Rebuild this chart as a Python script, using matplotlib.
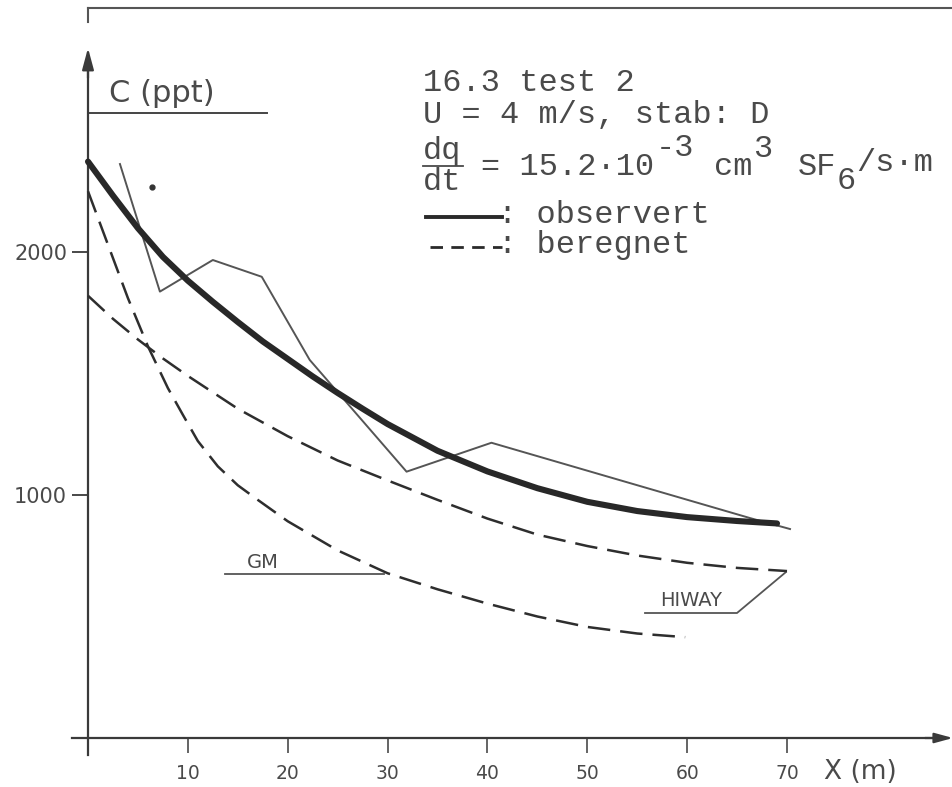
import matplotlib
matplotlib.use("Agg")
import matplotlib.pyplot as plt
from matplotlib.lines import Line2D

# ---------------- data ----------------
obs_fit_x = [0, 2.5, 5, 7.5, 10, 12.5, 15, 17.5, 20, 22.5, 25, 27.5, 30, 35, 40, 45, 50, 55, 60, 65, 69]
obs_fit_c = [2372, 2232, 2098, 1980, 1882, 1795, 1712, 1632, 1560, 1488, 1420, 1355, 1292, 1182, 1097,
             1028, 972, 934, 909, 893, 883]

obs_raw_x = [3.2, 7.2, 12.5, 17.4, 22.2, 31.9, 40.4, 66.3, 70.3]
obs_raw_c = [2362, 1837, 1967, 1898, 1556, 1096, 1215, 905, 860]

hiway_x = [0, 2.5, 5, 7.5, 10, 15, 20, 25, 30, 35, 40, 45, 50, 55, 60, 65, 70]
hiway_c = [1820, 1725, 1640, 1562, 1490, 1355, 1242, 1142, 1060, 980, 903, 837, 790, 751, 721, 700, 687]

gm_x = [0, 2, 4, 6, 8, 9.5, 11, 13, 15, 17, 20, 25, 30, 35, 40, 45, 50, 55, 59.8]
gm_c = [2250, 2030, 1810, 1612, 1440, 1330, 1222, 1118, 1040, 980, 892, 772, 678, 612, 553, 500, 457, 430, 415]

stray_x = [6.4]
stray_c = [2267]

x_ticks = [10, 20, 30, 40, 50, 60, 70]
x_tick_labels = ["10", "20", "30", "40", "50", "60", "70"]
y_ticks = [1000, 2000]
y_tick_labels = ["1000", "2000"]

# ---------------- figure / axes ----------------
W, H, DPI = 953, 787, 100
fig = plt.figure(figsize=(W / DPI, H / DPI), dpi=DPI)
fig.patch.set_facecolor("white")
ax = fig.add_axes([0, 0, 1, 1])
ax.set_facecolor("white")

X0PX, XSCALE = 88.0, 9.986     # pixel of x=0, pixels per metre
Y0PX, YSCALE = 738.0, 0.243    # pixel of C=0, pixels per ppt
ax.set_xlim(-X0PX / XSCALE, (W - X0PX) / XSCALE)
ax.set_ylim(-(H - Y0PX) / YSCALE, Y0PX / YSCALE)

def dx(px):
    return (px - X0PX) / XSCALE

def dy(py):
    return (Y0PX - py) / YSCALE

AX_COL = "#3a3a3a"
LINE_COL = "#2e2e2e"
TXT_COL = "#4a4a4a"

# spines as the hand-drawn axes
for s in ("top", "right"):
    ax.spines[s].set_visible(False)
ax.spines["left"].set_position(("data", 0))
ax.spines["bottom"].set_position(("data", 0))
ax.spines["left"].set_bounds(dy(755), dy(70))
ax.spines["bottom"].set_bounds(dx(72), dx(938))
for s in ("left", "bottom"):
    ax.spines[s].set_color(AX_COL)
    ax.spines[s].set_linewidth(1.6)

ax.set_xticks(x_ticks)
ax.set_xticklabels(x_tick_labels, family="DejaVu Sans", fontsize=13.5, color=TXT_COL)
ax.set_yticks(y_ticks)
ax.set_yticklabels(y_tick_labels, family="DejaVu Sans", fontsize=15, color=TXT_COL)
ax.tick_params(axis="x", direction="out", length=11, width=1.1, color=AX_COL, pad=8)
ax.tick_params(axis="y", direction="out", length=11.5, width=1.3, color=AX_COL, pad=3.5)

# arrow heads
ax.annotate("", xy=(0, dy(48)), xytext=(0, dy(78)),
            arrowprops=dict(arrowstyle="-|>,head_length=1.3,head_width=0.35",
                            color=AX_COL, lw=1.6, shrinkA=0, shrinkB=0))
ax.annotate("", xy=(dx(953), 0), xytext=(dx(925), 0),
            arrowprops=dict(arrowstyle="-|>,head_length=1.1,head_width=0.3",
                            color=AX_COL, lw=1.6, shrinkA=0, shrinkB=0))

# ---------------- series ----------------
ax.plot(obs_fit_x, obs_fit_c, color="#282828", lw=4.4, solid_capstyle="round",
        solid_joinstyle="round", zorder=4)
ax.plot(obs_raw_x, obs_raw_c, color="#555555", lw=1.4, zorder=3)
ax.plot(hiway_x, hiway_c, color=LINE_COL, lw=1.8, ls=(0, (9, 4)), zorder=3)
ax.plot(gm_x, gm_c, color=LINE_COL, lw=1.8, ls=(0, (9, 4)), zorder=3)
ax.plot(stray_x, stray_c, "o", color="#333333", ms=3.5, zorder=3)

# model labels
ax.plot([dx(225), dx(384)], [dy(574), dy(574)], color="#555555", lw=1.3)
ax.text(dx(263), dy(562), "GM", ha="center", va="center", fontsize=14,
        family="DejaVu Sans", color=TXT_COL)
ax.plot([dx(645), dx(737), dx(786)], [dy(613), dy(613), dy(572)], color="#555555", lw=1.3)
ax.text(dx(691), dy(600), "HIWAY", ha="center", va="center", fontsize=14,
        family="DejaVu Sans", color=TXT_COL)

# axis titles
ax.text(dx(109), dy(93), "C (ppt)", ha="left", va="center", fontsize=22,
        family="DejaVu Sans", color=TXT_COL)
ax.plot([dx(88), dx(267)], [dy(113), dy(113)], color="#444444", lw=1.4)
ax.text(dx(824), dy(772), "X (m)", ha="left", va="center", fontsize=19,
        family="DejaVu Sans", color=TXT_COL)

# page frame fragment at top
fig.add_artist(Line2D([88 / W, 1.0], [1 - 8 / H, 1 - 8 / H], color="#555555", lw=1.5))
fig.add_artist(Line2D([88 / W, 88 / W], [1 - 8 / H, 1 - 22 / H], color="#555555", lw=1.5))

# ---------------- typewriter legend block ----------------
MONO = ["Liberation Mono", "DejaVu Sans Mono"]
FS = 23
CW = 19.4
XL = 423.0

def tw(col, py, s, fs=FS, xoff=0.0):
    fig.text((XL + col * CW + xoff) / W, 1 - py / H, s, ha="left", va="center",
             fontsize=fs, family=MONO, color=TXT_COL)

tw(0, 83, "16.3 test 2")
tw(0, 115, "U = 4 m/s, stab: D")
tw(0, 151, "dq")
tw(0, 182, "dt")
fig.add_artist(Line2D([XL / W, (XL + 40) / W], [1 - 166 / H, 1 - 166 / H], color=TXT_COL, lw=1.3))
tw(3, 167, "= 15.2\u00b710")
tw(12, 148, "-3")
tw(15, 167, "cm")
tw(17, 149, "3")
tw(19, 167, "SF", xoff=6)
tw(21, 181, "6", xoff=6)
tw(22, 163, "/s\u00b7m", xoff=6)

fig.add_artist(Line2D([426 / W, 502 / W], [1 - 217 / H, 1 - 217 / H], color="#2a2a2a", lw=2.8))
tw(0, 215, ": observert", xoff=75)
fig.add_artist(Line2D([430 / W, 502 / W], [1 - 247 / H, 1 - 247 / H], color="#2a2a2a", lw=2.0,
                      ls=(0, (4.5, 3))))
tw(0, 245, ": beregnet", xoff=75)

fig.savefig("out.png", dpi=DPI, facecolor="white")
